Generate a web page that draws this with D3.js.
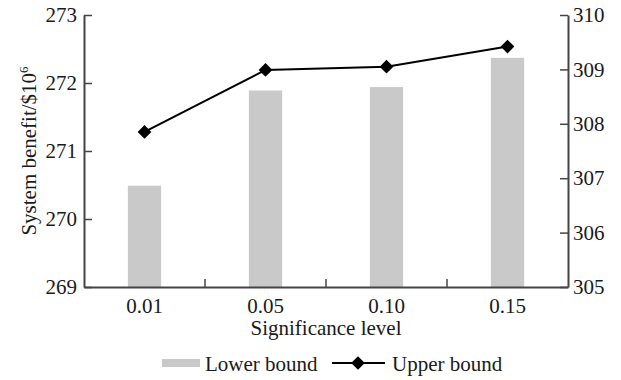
<!DOCTYPE html>
<html>
<head>
<meta charset="utf-8">
<script src="https://cdn.jsdelivr.net/npm/d3@7"></script>
<style>
  body { margin: 0; background: #fff; }
  text { font-family: "Liberation Serif", "Times New Roman", serif; fill: #1a1a1a; }
</style>
</head>
<body>
<svg id="chart" width="621" height="380"></svg>
<script>
// data
var levels = ["0.01", "0.05", "0.10", "0.15"];
var lowerBound = [270.49, 271.89, 271.94, 272.37];
var upperBound = [307.85, 308.99, 309.05, 309.42];
var leftTicks = [269, 270, 271, 272, 273];
var rightTicks = [305, 306, 307, 308, 309, 310];

var svg = d3.select("#chart");
var margin = {left: 84, right: 53, top: 15, bottom: 93};
var width = 621 - margin.left - margin.right,
    height = 380 - margin.top - margin.bottom;

var g = svg.append("g").attr("transform", "translate(" + margin.left + "," + margin.top + ")");

var x = d3.scaleBand().domain(levels).range([0, width]);
var yLeft = d3.scaleLinear().domain([269, 273]).range([height, 0]);
var yRight = d3.scaleLinear().domain([305, 310]).range([height, 0]);

var barW = x.bandwidth() * 0.275;

// bars (lower bound, left axis)
g.selectAll(".bar")
  .data(levels)
  .enter().append("rect")
  .attr("class", "bar")
  .attr("x", function (d) { return x(d) + x.bandwidth() / 2 - barW / 2; })
  .attr("y", function (d, i) { return yLeft(lowerBound[i]); })
  .attr("width", barW)
  .attr("height", function (d, i) { return height - yLeft(lowerBound[i]); })
  .attr("fill", "#c9c9c9");

// axes
var axisColor = "#444";
var fmt = d3.format("d");
var leftAxis = g.append("g")
  .call(d3.axisLeft(yLeft).tickValues(leftTicks).tickFormat(fmt).tickSize(-8).tickSizeOuter(0));
var rightAxis = g.append("g")
  .attr("transform", "translate(" + width + ",0)")
  .call(d3.axisRight(yRight).tickValues(rightTicks).tickFormat(fmt).tickSize(-8).tickSizeOuter(0));
var bottomAxis = g.append("g")
  .attr("transform", "translate(0," + height + ")")
  .call(d3.axisBottom(x).tickSize(0).tickPadding(11));

// bottom axis: ticks between the categories, pointing up
bottomAxis.selectAll(".between")
  .data(levels.slice(1))
  .enter().append("line")
  .attr("x1", function (d) { return x(d); })
  .attr("x2", function (d) { return x(d); })
  .attr("y1", 0).attr("y2", -8)
  .attr("stroke", axisColor).attr("stroke-width", 1.5);

[leftAxis, rightAxis, bottomAxis].forEach(function (a) {
  a.select(".domain").attr("stroke", axisColor).attr("stroke-width", 2);
  a.selectAll(".tick line").attr("stroke", axisColor).attr("stroke-width", 1.5);
  a.selectAll(".tick text").style("font-size", "21px").attr("fill", "#1a1a1a")
    .style("font-family", "'Liberation Serif', serif");
});
leftAxis.selectAll(".tick text").attr("x", -7);
rightAxis.selectAll(".tick text").attr("x", 5);

// upper bound line (right axis)
var line = d3.line()
  .x(function (d, i) { return x(levels[i]) + x.bandwidth() / 2; })
  .y(function (d) { return yRight(d); });

g.append("path")
  .datum(upperBound)
  .attr("d", line)
  .attr("fill", "none")
  .attr("stroke", "#000")
  .attr("stroke-width", 2);

var diamond = d3.symbol().type(d3.symbolDiamond2).size(120);
g.selectAll(".pt")
  .data(upperBound)
  .enter().append("path")
  .attr("class", "pt")
  .attr("d", diamond)
  .attr("transform", function (d, i) {
    return "translate(" + (x(levels[i]) + x.bandwidth() / 2) + "," + yRight(d) + ")";
  })
  .attr("fill", "#000");

// axis titles
svg.append("text")
  .attr("x", margin.left + width / 2)
  .attr("y", 335)
  .attr("text-anchor", "middle")
  .style("font-size", "21px")
  .text("Significance level");

var yt = svg.append("text")
  .attr("transform", "translate(36," + (margin.top + height / 2) + ") rotate(-90)")
  .attr("text-anchor", "middle")
  .style("font-size", "21px");
yt.append("tspan").text("System benefit/$10");
yt.append("tspan").attr("dy", -8).style("font-size", "13px").text("6");

// legend
var lg = svg.append("g").attr("transform", "translate(0,363)");
lg.append("rect").attr("x", 162).attr("y", -4).attr("width", 38).attr("height", 8).attr("fill", "#c9c9c9");
lg.append("text").attr("x", 205).attr("y", 8).style("font-size", "21px").text("Lower bound");
lg.append("line").attr("x1", 332).attr("x2", 385).attr("y1", 0).attr("y2", 0)
  .attr("stroke", "#000").attr("stroke-width", 2);
lg.append("path").attr("d", diamond).attr("transform", "translate(358,0)").attr("fill", "#000");
lg.append("text").attr("x", 392).attr("y", 8).style("font-size", "21px").text("Upper bound");
</script>
</body>
</html>
